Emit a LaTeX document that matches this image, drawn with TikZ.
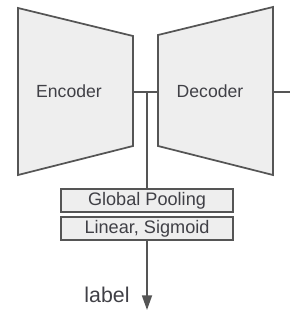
\documentclass[tikz,border=0pt]{standalone}
\usepackage{fontspec}
\setmainfont{Liberation Sans}
\usepackage{tikz}
\usetikzlibrary{arrows.meta,positioning,calc}
\usepackage{xcolor}
\definecolor{edgegray}{RGB}{85,85,85}
\definecolor{fillgray}{RGB}{238,238,238}
\definecolor{textgray}{RGB}{64,64,70}

\begin{document}
\begin{tikzpicture}[x=0.75pt, y=-0.75pt,
    block/.style={draw=edgegray, line width=1.3pt, fill=fillgray},
    headbox/.style={rectangle, draw=edgegray, line width=1.3pt, fill=fillgray,
        minimum width=129pt, minimum height=17pt, inner sep=0pt,
        font=\fontsize{13.6}{15}\selectfont, text=textgray},
    lbl/.style={font=\fontsize{13.2}{15}\selectfont, text=textgray},
    wire/.style={draw=edgegray, line width=1.3pt},
    arr/.style={wire, -{Triangle[length=11pt, width=7.5pt]}}
]
    \useasboundingbox (0,0) rectangle (290,314);
    % encoder and decoder
    \draw[block] (18,8) -- (133,36) -- (133,146) -- (18,175) -- cycle;
    \draw[block] (158,35) -- (273,7) -- (273,175) -- (158,146) -- cycle;
    \node[lbl] (enc) at (69,91) {Encoder};
    \node[lbl] (dec) at (210,91) {Decoder};
    \coordinate (encout) at (133,92);
    \coordinate (decin) at (158,92);
    \coordinate (decout) at (273,92);
    \coordinate (out) at (290,92);
    \coordinate (split) at (147,92);
    % classification head
    \node[headbox] (pool) at (147,200.5) {Global Pooling};
    \node[headbox] (lin) at (147,228.5) {Linear, Sigmoid};
    \coordinate (tip) at (147,310);
    \node[font=\fontsize{16}{18}\selectfont, text=textgray] (label) at (107,295) {label};
    \draw[wire] (encout) -- (decin);
    \draw[wire] (decout) -- (out);
    \draw[wire] (split) -- (pool);
    \draw[arr] (lin) -- (tip);
\end{tikzpicture}
\end{document}
